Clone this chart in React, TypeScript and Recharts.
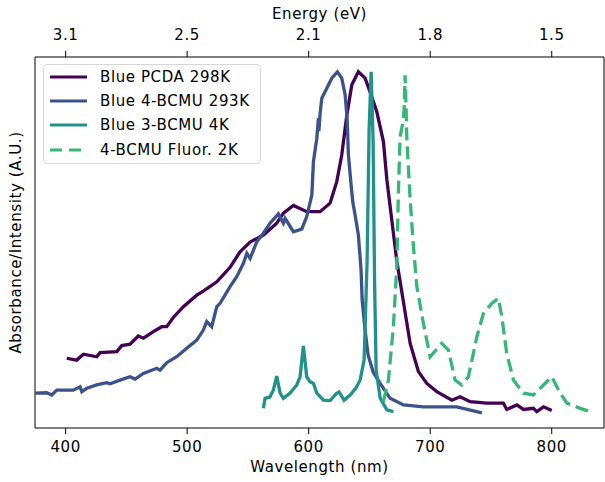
import React from "react";
import { LineChart, Line, XAxis, YAxis, Legend, ReferenceLine } from "recharts";

const FONT = "'DejaVu Sans', sans-serif";

const wavelengthTicks = [400, 500, 600, 700, 800];
const energyTicks = ["3.1", "2.5", "2.1", "1.8", "1.5"];

// Blue PCDA 298K (absorbance)
const pcdaWl = [
  400.9, 409.1, 414.6, 425.6, 428.3, 442.1, 446.2, 453.0, 459.8, 464.0, 472.2, 479.1, 483.2,
  488.6, 496.9, 507.9, 513.3, 524.4, 535.3, 543.5, 551.8, 562.7, 573.7, 579.2, 587.4, 598.4,
  609.4, 617.6, 623.1, 627.2, 631.4, 635.5, 640.9, 646.4, 650.5, 656.0, 661.5, 664.3, 672.5,
  683.5, 690.3, 697.2, 705.4, 717.8, 724.6, 732.8, 746.6, 760.2, 763.0, 771.3, 776.7, 784.9,
  787.7, 793.2, 800.0,
];
const pcdaAbs = [
  0.188, 0.183, 0.199, 0.192, 0.203, 0.206, 0.222, 0.226, 0.248, 0.242, 0.26, 0.273, 0.273,
  0.298, 0.327, 0.358, 0.369, 0.394, 0.433, 0.475, 0.501, 0.52, 0.552, 0.579, 0.6, 0.583,
  0.583, 0.606, 0.664, 0.736, 0.844, 0.925, 0.96, 0.943, 0.906, 0.853, 0.772, 0.67, 0.45,
  0.228, 0.152, 0.12, 0.098, 0.075, 0.084, 0.071, 0.067, 0.067, 0.05, 0.062, 0.05, 0.053,
  0.044, 0.057, 0.047,
];

// Blue 4-BCMU 293K (absorbance)
const bcmu4Wl = [
  375.2, 384.4, 388.6, 392.7, 406.3, 411.9, 413.3, 417.4, 425.6, 433.8, 436.5, 444.8, 453.0,
  457.1, 464.0, 475.0, 477.7, 483.2, 491.4, 499.7, 507.9, 513.3, 516.1, 520.2, 524.4, 527.1,
  535.3, 540.8, 546.3, 549.1, 551.8, 557.3, 562.7, 568.2, 575.1, 579.2, 580.6, 587.4, 594.3,
  598.4, 602.6, 603.9, 606.7, 608.0, 608.4, 609.4, 610.8, 614.9, 619.0, 623.6, 627.2, 630.0,
  631.7, 632.7, 634.7, 636.3, 638.2, 640.9, 643.1, 644.0, 646.4, 648.9, 653.0, 658.8, 667.0,
  678.0, 694.4, 721.9, 742.5,
];
const bcmu4Abs = [
  0.094, 0.095, 0.089, 0.102, 0.102, 0.111, 0.098, 0.107, 0.116, 0.122, 0.119, 0.129, 0.138,
  0.132, 0.147, 0.161, 0.156, 0.176, 0.192, 0.215, 0.237, 0.264, 0.287, 0.273, 0.327, 0.336,
  0.381, 0.408, 0.444, 0.471, 0.457, 0.502, 0.525, 0.552, 0.577, 0.552, 0.565, 0.529, 0.536,
  0.57, 0.628, 0.718, 0.781, 0.835, 0.8, 0.848, 0.889, 0.916, 0.943, 0.96, 0.943, 0.898,
  0.83, 0.736, 0.663, 0.609, 0.574, 0.52, 0.426, 0.345, 0.264, 0.197, 0.151, 0.12, 0.08,
  0.062, 0.057, 0.057, 0.041,
];

// Blue 3-BCMU 4K (absorbance)
const bcmu3Wl = [
  562.7, 564.1, 568.2, 570.9, 573.7, 576.5, 579.2, 584.7, 590.2, 592.9, 595.6, 598.4, 601.1,
  603.9, 606.7, 612.1, 617.6, 622.6, 625.0, 629.1, 634.1, 639.0, 642.3, 645.6, 648.1, 649.7,
  651.4, 653.0, 654.2, 655.5, 658.8, 664.3, 669.7,
];
const bcmu3Abs = [
  0.053, 0.08, 0.084, 0.102, 0.14, 0.094, 0.08, 0.094, 0.116, 0.138, 0.221, 0.138, 0.125,
  0.12, 0.094, 0.075, 0.074, 0.092, 0.097, 0.075, 0.089, 0.108, 0.129, 0.183, 0.453, 0.803,
  0.96, 0.776, 0.399, 0.156, 0.081, 0.049, 0.044,
];

// 4-BCMU fluorescence 2K
const fluorWl = [
  661.5, 665.6, 669.7, 672.5, 673.8, 675.2, 677.4, 678.5, 679.3, 680.2, 680.7, 683.5, 686.2,
  689.0, 694.4, 699.9, 709.5, 715.0, 720.5, 726.0, 731.4, 738.4, 743.8, 750.7, 756.1, 758.9,
  763.0, 768.5, 776.7, 784.9, 793.2, 800.1, 806.9, 812.5, 823.4, 831.6,
];
const fluorInt = [
  0.071, 0.129, 0.273, 0.435, 0.633, 0.785, 0.821, 0.857, 0.951, 0.857, 0.785, 0.615, 0.489,
  0.381, 0.282, 0.192, 0.228, 0.21, 0.129, 0.116, 0.138, 0.246, 0.309, 0.336, 0.35, 0.3,
  0.201, 0.129, 0.094, 0.089, 0.116, 0.138, 0.094, 0.067, 0.053, 0.044,
];

const zip = (wl: number[], v: number[]) => wl.map((w, i) => ({ wl: w, v: v[i] }));

const series = [
  { name: "Blue PCDA 298K", data: zip(pcdaWl, pcdaAbs), color: "#440154", dash: undefined },
  { name: "Blue 4-BCMU 293K", data: zip(bcmu4Wl, bcmu4Abs), color: "#3b528b", dash: undefined },
  { name: "Blue 3-BCMU 4K", data: zip(bcmu3Wl, bcmu3Abs), color: "#21918c", dash: undefined },
  { name: "4-BCMU Fluor. 2K", data: zip(fluorWl, fluorInt), color: "#35b779", dash: "13 6" },
];

const X_MIN = 374.8;
const X_MAX = 843;

const tickStyle = { fill: "#000", fontSize: 15, fontFamily: FONT, letterSpacing: 0.6 };
const labelStyle = { fill: "#000", fontSize: 15, fontFamily: FONT, style: { letterSpacing: 0.6 } };

function LegendBox() {
  return (
    <div
      style={{
        width: 218,
        height: 100,
        boxSizing: "border-box",
        border: "1px solid #d6d6d6",
        borderRadius: 4,
        background: "rgba(255,255,255,0.85)",
        paddingTop: 0,
      }}
    >
      {series.map((s) => (
        <div key={s.name} style={{ display: "flex", alignItems: "center", height: 24.2 }}>
          <svg width={44} height={8} style={{ display: "block" }}>
            <line x1={6} y1={4} x2={43} y2={4} stroke={s.color} strokeWidth={3.2} strokeDasharray={s.dash ? "12 7" : undefined} />
          </svg>
          <span
            style={{
              marginLeft: 12,
              fontFamily: FONT,
              fontSize: 15,
              letterSpacing: 0.6,
              color: "#000",
              whiteSpace: "nowrap",
            }}
          >
            {s.name}
          </span>
        </div>
      ))}
    </div>
  );
}

export default function App() {
  return (
    <div style={{ position: "absolute", left: 0, top: 0 }}>
      <LineChart width={605} height={482} margin={{ top: 0, right: 1, left: 0, bottom: 0 }}>
        <XAxis
          xAxisId="bottom"
          dataKey="wl"
          type="number"
          domain={[X_MIN, X_MAX]}
          allowDataOverflow
          ticks={wavelengthTicks}
          height={54}
          tickSize={6}
          tickMargin={7}
          stroke="#000"
          tick={tickStyle}
          label={{ value: "Wavelength (nm)", position: "insideBottom", offset: 10, ...labelStyle }}
        />
        <XAxis
          xAxisId="top"
          orientation="top"
          dataKey="wl"
          type="number"
          domain={[X_MIN, X_MAX]}
          allowDataOverflow
          ticks={wavelengthTicks}
          tickFormatter={(w: number) => energyTicks[wavelengthTicks.indexOf(w)]}
          height={57}
          tickSize={6}
          tickMargin={11}
          stroke="#000"
          tick={tickStyle}
          label={{ value: "Energy (eV)", position: "insideTop", offset: 8, ...labelStyle }}
        />
        <YAxis
          domain={[0, 1]}
          allowDataOverflow
          width={35}
          tick={false}
          tickLine={false}
          stroke="#000"
          label={{ value: "Absorbance/Intensity (A.U.)", angle: -90, position: "center", dx: -2, ...labelStyle }}
        />
        <ReferenceLine xAxisId="bottom" x={X_MAX} stroke="#000" strokeWidth={1} />
        {series.map((s) => (
          <Line
            key={s.name}
            xAxisId="bottom"
            data={s.data}
            dataKey="v"
            name={s.name}
            stroke={s.color}
            strokeWidth={3.3}
            strokeDasharray={s.dash}
            dot={false}
            activeDot={false}
            type="linear"
            isAnimationActive={false}
          />
        ))}
        <Legend
          layout="vertical"
          align="center"
          verticalAlign="middle"
          content={() => <LegendBox />}
          wrapperStyle={{ left: 43, top: 64, width: 218, height: 100 }}
        />
      </LineChart>
    </div>
  );
}
